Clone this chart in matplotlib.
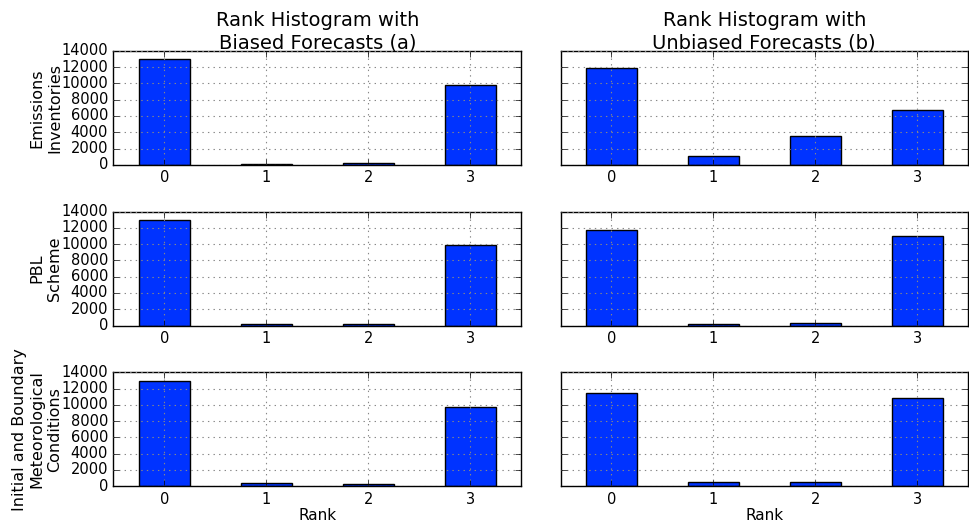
import matplotlib
matplotlib.use("Agg")
import matplotlib.pyplot as plt
import numpy as np

plt.style.use('classic')

ranks = [0, 1, 2, 3]
row_labels = ["Emissions\nInventories", "PBL\nScheme",
              "Initial and Boundary\nMeteorological\nConditions"]
col_titles = ["Rank Histogram with\nBiased Forecasts (a)",
              "Rank Histogram with\nUnbiased Forecasts (b)"]

emis_biased = [13050, 150, 250, 9800]
emis_unbiased = [11870, 1100, 3560, 6710]
pbl_biased = [12950, 250, 200, 9920]
pbl_unbiased = [11720, 200, 300, 11020]
ibc_biased = [12950, 400, 300, 9700]
ibc_unbiased = [11420, 570, 520, 10800]

data = [[emis_biased, emis_unbiased],
        [pbl_biased, pbl_unbiased],
        [ibc_biased, ibc_unbiased]]

fig, axes = plt.subplots(3, 2, figsize=(9.7, 5.24), dpi=100, facecolor='white')
fig.subplots_adjust(left=0.117, right=0.998, top=0.903, bottom=0.072,
                    wspace=0.097, hspace=0.41)

for r in range(3):
    for c in range(2):
        ax = axes[r, c]
        ax.bar(ranks, data[r][c], width=0.5, color='#0033ff',
               edgecolor='black', linewidth=1, align='center')
        ax.set_xlim(-0.5, 3.5)
        ax.set_ylim(0, 14000)
        ax.set_xticks(ranks)
        ax.set_xticklabels([str(x) for x in ranks])
        ax.set_yticks(np.arange(0, 14001, 2000))
        ax.grid(True, color='#888888', linestyle=':', linewidth=0.8)
        ax.tick_params(labelsize=10.5, direction='in', length=4)
        if c == 1:
            ax.set_yticklabels([])
        else:
            ax.set_ylabel(row_labels[r], fontsize=11.5)
            ax.yaxis.set_label_coords(-0.126, 0.5)
        if r == 0:
            ax.set_title(col_titles[c], fontsize=14, pad=2)
        if r == 2:
            ax.set_xlabel("Rank", fontsize=11, labelpad=1)

fig.savefig("out.png", dpi=100, facecolor='white')
